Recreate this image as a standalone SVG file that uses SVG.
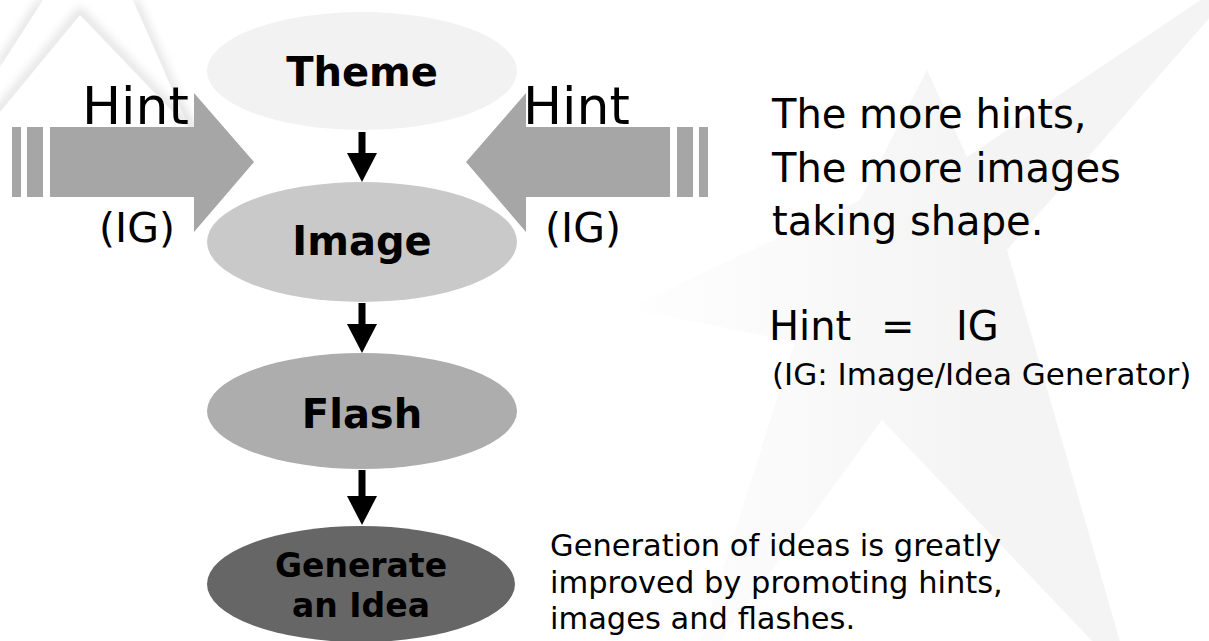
<svg xmlns="http://www.w3.org/2000/svg" width="1209" height="641" viewBox="0 0 1209 641">
<style>
  .t{font-family:"DejaVu Sans",Verdana,sans-serif;fill:#000}
  .b{font-weight:bold;text-anchor:middle}
  .m{text-anchor:middle}
  .blk{fill:#a6a6a6}
  .sh{fill:none;stroke:#e2e2e2;stroke-width:9}
  .conn{stroke:#000;stroke-width:7;fill:none}
</style>
<defs>
  <linearGradient id="starG" gradientUnits="userSpaceOnUse" x1="610" y1="0" x2="980" y2="0">
    <stop offset="0" stop-color="#ffffff"/>
    <stop offset="1" stop-color="#f4f4f4"/>
  </linearGradient>
  <filter id="blur" x="-30%" y="-30%" width="160%" height="160%">
    <feGaussianBlur stdDeviation="5"/>
  </filter>
  <marker id="ah" viewBox="0 0 29 30" markerWidth="29" markerHeight="30" refX="0" refY="15" orient="auto" markerUnits="userSpaceOnUse">
    <path d="M0,0 L29,15 L0,30 Z" fill="#000"/>
  </marker>
</defs>
<rect width="1209" height="641" fill="#fff"/>

<g id="background">
  <polygon points="627,308 860,200 927,70 967,157 1260,-40 1007,250 1132,683 882,420 685,689 795,342" fill="url(#starG)"/>
  <polyline class="sh" points="43,0 0,67" filter="url(#blur)"/>
  <polyline class="sh" points="133,0 190,130" filter="url(#blur)"/>
  <polygon points="43,0 133,0 190,130 0,130 0,67" fill="#fff"/>
  <polyline class="sh" points="-5,116 80,13 192,130" filter="url(#blur)"/>
  <polygon points="-5,118 80,15 192,132 0,132" fill="#fff"/>
</g>

<g id="hint-left">
  <rect class="blk" x="12" y="127" width="9" height="70"/>
  <rect class="blk" x="27" y="127" width="16" height="70"/>
  <polygon class="blk" points="50,127 194,127 194,93 254,162 194,232 194,197 50,197"/>
  <text class="t" x="82" y="124" font-size="52">Hint</text>
  <text class="t m" x="137" y="242" font-size="41">(IG)</text>
</g>

<g id="hint-right">
  <rect class="blk" x="699" y="127" width="9" height="70"/>
  <rect class="blk" x="677" y="127" width="16" height="70"/>
  <polygon class="blk" points="670,127 526,127 526,93 466,162 526,232 526,197 670,197"/>
  <text class="t" x="523" y="124" font-size="52">Hint</text>
  <text class="t m" x="583" y="242" font-size="41">(IG)</text>
</g>

<g id="theme">
  <ellipse cx="362" cy="71" rx="155" ry="59" fill="#f2f2f2"/>
  <text class="t b" x="362" y="86" font-size="40">Theme</text>
</g>
<g id="image">
  <ellipse cx="362" cy="242" rx="155" ry="60" fill="#c9c9c9"/>
  <text class="t b" x="362" y="255" font-size="40">Image</text>
</g>
<g id="flash">
  <ellipse cx="362" cy="411" rx="155" ry="58" fill="#adadad"/>
  <text class="t b" x="362" y="428" font-size="40">Flash</text>
</g>
<g id="generate">
  <ellipse cx="361" cy="584" rx="154" ry="58" fill="#666666"/>
  <text class="t b" x="361" y="577" font-size="33">Generate</text>
  <text class="t b" x="361" y="617" font-size="33">an Idea</text>
</g>

<g id="connectors">
  <line class="conn" x1="362" y1="132" x2="362" y2="153" marker-end="url(#ah)"/>
  <line class="conn" x1="362" y1="303" x2="362" y2="324" marker-end="url(#ah)"/>
  <line class="conn" x1="362" y1="470" x2="362" y2="496" marker-end="url(#ah)"/>
</g>

<g id="notes">
  <text class="t" x="772" y="128" font-size="40">The more hints,</text>
  <text class="t" x="772" y="182" font-size="40">The more images</text>
  <text class="t" x="772" y="235" font-size="40">taking shape.</text>
  <text class="t" y="340" font-size="40"><tspan x="769">Hint</tspan><tspan x="881">=</tspan><tspan x="956">IG</tspan></text>
  <text class="t" x="772" y="385" font-size="31">(IG: Image/Idea Generator)</text>
  <text class="t" x="550" y="556" font-size="30.5">Generation of ideas is greatly</text>
  <text class="t" x="550" y="593" font-size="30.5">improved by promoting hints,</text>
  <text class="t" x="550" y="629" font-size="30.5">images and flashes.</text>
</g>
</svg>
